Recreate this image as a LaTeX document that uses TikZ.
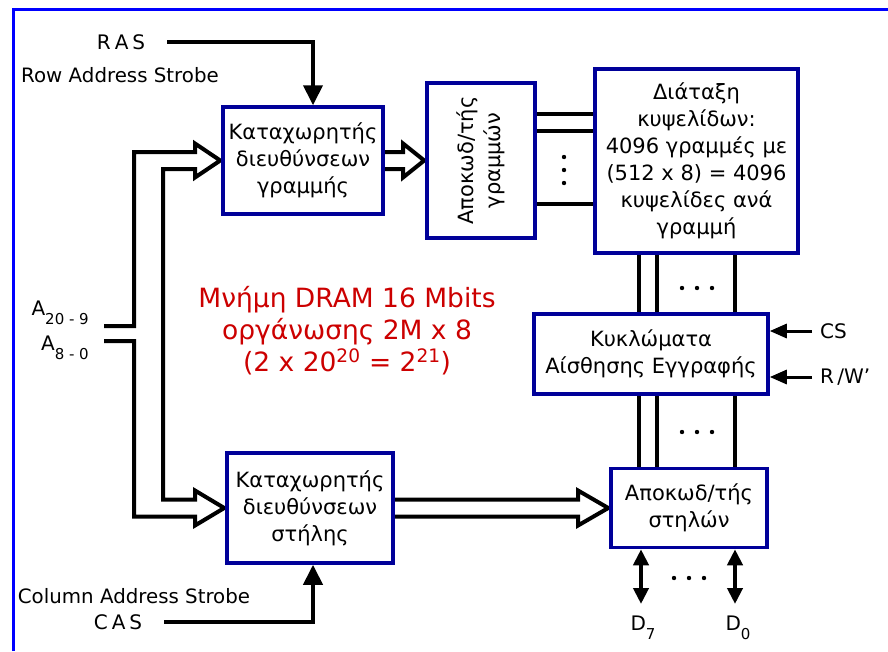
\documentclass[tikz,border=0pt]{standalone}
\usepackage{fontspec}
\setmainfont{DejaVu Sans}
\usetikzlibrary{arrows.meta,backgrounds}
\definecolor{frameblue}{HTML}{0000FF}
\definecolor{boxblue}{HTML}{000099}
\definecolor{titlered}{HTML}{CC0000}
\newcommand\lowsub[1]{\raisebox{-9pt}{\fontsize{15}{15}\selectfont#1}}
\tikzset{
  blk/.style={draw=boxblue,line width=3.5pt,fill=white,align=center,inner sep=2pt,font=\fontsize{21}{27}\selectfont},
  lbl/.style={align=center,inner sep=1pt,font=\fontsize{20}{24}\selectfont},
  lbls/.style={lbl,font=\fontsize{19.8}{22}\selectfont},
  wire/.style={draw=black,line width=4pt},
  sig/.style={wire,-{Triangle[length=20pt,width=19pt]}},
  ctl/.style={draw=black,line width=3pt,-{Triangle[length=17pt,width=14pt]}},
  dio/.style={wire,{Triangle[length=16pt,width=15pt]}-{Triangle[length=16pt,width=15pt]}},
}

\begin{document}
\begin{tikzpicture}[x=1pt,y=-1pt]
  \useasboundingbox (0,0) rectangle (888,651);
  \draw[frameblue,line width=3.5pt] (13.5,651) -- (13.5,9.5) -- (888,9.5);
  % blocks
  \node[blk,minimum width=160pt,minimum height=107pt] (rowreg) at (303,160.5) {Καταχωρητής\\διευθύνσεων\\γραμμής};
  \node[blk,rotate=90,minimum width=155pt,minimum height=108pt] (rowdec) at (481,160.5) {Αποκωδ/τής\\γραμμών};
  \node[blk,minimum width=203pt,minimum height=184pt] (cells) at (696.5,161) {Διάταξη\\κυψελίδων:\\4096 γραμμές με\\(512 x 8) = 4096\\κυψελίδες ανά\\γραμμή};
  \node[blk,minimum width=234pt,minimum height=80pt] (sense) at (651,354) {Κυκλώματα\\Αίσθησης Εγγραφής};
  \node[blk,minimum width=156pt,minimum height=79pt] (coldec) at (689,508) {Αποκωδ/τής\\στηλών};
  \node[blk,minimum width=166pt,minimum height=110pt] (colreg) at (310,508) {Καταχωρητής\\διευθύνσεων\\στήλης};
  % labels
  \node[lbl] (ras) at (121,42) {R\hspace{4pt}A\hspace{4pt}S};
  \node[lbls] (rasname) at (120,75) {Row Address Strobe};
  \node[lbl] (cas) at (118,622) {C\hspace{4pt}A\hspace{4pt}S};
  \node[lbls] (casname) at (134,596) {Column Address Strobe};
  \node[lbl,anchor=base east] (addrhi) at (90,315) {A\lowsub{20 - 9}};
  \node[lbl,anchor=base east] (addrlo) at (90,350) {A\lowsub{8 - 0}};
  \node[lbl,anchor=west,inner xsep=8pt] (cs) at (812,331) {CS};
  \node[lbl,anchor=west,inner xsep=8pt] (rw) at (812,377) {R\,/W’};
  \node[lbl,anchor=base] (dseven) at (643,630) {D\lowsub{7}};
  \node[lbl,anchor=base] (dzero) at (738,630) {D\lowsub{0}};
  \node[lbl,text=titlered,font=\fontsize{26.5}{32}\selectfont] (title) at (347,331) {Μνήμη DRAM 16 Mbits\\οργάνωσης 2M x 8\\(2 x 20\textsuperscript{20} = 2\textsuperscript{21})};
  \coordinate (hiin) at (104,326);
  \coordinate (loin) at (104,341);
  \coordinate (d7end) at (641,604);
  \coordinate (d0end) at (735,604);
  \begin{scope}[on background layer]
    % address bus into both registers
    \draw[wire] (hiin) -| (134,152) -- (195,152) -- (195,143.5) -- ([xshift=-1pt]rowreg.west) -- (195,177.5) -- (195,169) -- (163,169) -- (163,499.5) -- (195,499.5) -- (195,490.5) -- ([xshift=-1pt]colreg.west) -- (195,525.5) -- (195,516.5) -- (134,516.5) |- (loin);
    \draw[wire] (rowreg.east |- 0,152) -- (403,152) -- (403,143.5) -- ([xshift=-1pt]rowdec.north) -- (403,177.5) -- (403,169) -- (rowreg.east |- 0,169);
    \draw[wire] (colreg.east |- 0,499.5) -- (578,499.5) -- (578,490.5) -- ([xshift=-1pt]coldec.west) -- (578,525.5) -- (578,516.5) -- (colreg.east |- 0,516.5);
    \draw[sig] ([xshift=21pt]ras.east) -| ([xshift=10pt]rowreg.north);
    \draw[sig] ([xshift=21pt]cas.east) -| ([xshift=3pt]colreg.south);
    \foreach \y in {114,131,204} \draw[wire] (rowdec.south |- 0,\y) -- (cells.west |- 0,\y);
    \foreach \x in {639,657,735} {
      \draw[wire] (cells.south -| \x,0) -- (sense.north -| \x,0);
      \draw[wire] (sense.south -| \x,0) -- (coldec.north -| \x,0);
    }
    \draw[ctl] (cs.west) -- (sense.east |- cs.west);
    \draw[ctl] (rw.west) -- (sense.east |- rw.west);
    \draw[dio] (coldec.south -| d7end) -- (d7end);
    \draw[dio] (coldec.south -| d0end) -- (d0end);
  \end{scope}
  % dots
  \foreach \y in {157,170,183} \fill (564,\y) circle (2.2pt);
  \foreach \x in {682,697,712} { \fill (\x,288) circle (2.2pt); \fill (\x,432) circle (2.2pt); }
  \foreach \x in {674,689,704} \fill (\x,578) circle (2.2pt);
\end{tikzpicture}
\end{document}
